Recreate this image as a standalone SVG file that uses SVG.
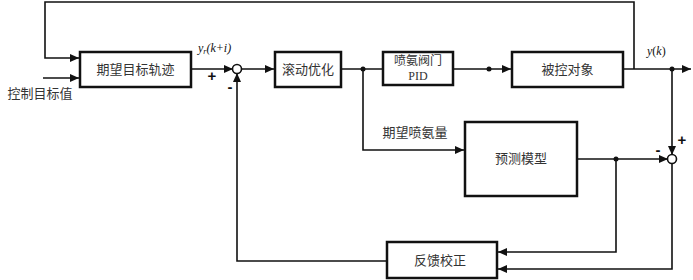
<svg xmlns="http://www.w3.org/2000/svg" width="693" height="280" viewBox="0 0 693 280">
<style>
.box{fill:#fff;stroke:#111;stroke-width:2.5}
.ln{fill:none;stroke:#111;stroke-width:1.6}
.t{font-family:"Noto Sans CJK SC","Noto Sans",sans-serif;font-size:13px;fill:#333;text-anchor:middle}
.s{font-family:"Liberation Serif","Noto Sans CJK SC",serif;font-size:12px;fill:#333;text-anchor:middle}
.m{font-family:"Liberation Sans",sans-serif;font-size:15px;font-weight:bold;fill:#111;text-anchor:middle}
.v{font-family:"Liberation Serif",serif;font-size:12px;font-style:italic;fill:#111}
.dot{fill:#111}
.sum{fill:#fff;stroke:#111;stroke-width:1.6}
</style>
<defs>
<marker id="ar" markerWidth="9" markerHeight="8" refX="9" refY="4" orient="auto" markerUnits="userSpaceOnUse">
<path d="M0,0 L9,4 L0,8 Z" fill="#111"/>
</marker>
</defs>
<g id="connectors">
<path class="ln" d="M634 69 V2 H45 V58 H79" marker-end="url(#ar)"/>
<path class="ln" d="M43 78 H79" marker-end="url(#ar)"/>
<path class="ln" d="M191 69 H233" marker-end="url(#ar)"/>
<path class="ln" d="M241 69 H274" marker-end="url(#ar)"/>
<path class="ln" d="M341 69 H383"/>
<path class="ln" d="M453 69 H511" marker-end="url(#ar)"/>
<path class="ln" d="M623 69 H691" marker-end="url(#ar)"/>
<path class="ln" d="M672 69 V155" marker-end="url(#ar)"/>
<path class="ln" d="M363 69 V150 H464" marker-end="url(#ar)"/>
<path class="ln" d="M577 159 H668" marker-end="url(#ar)"/>
<path class="ln" d="M616 159 V252 H498" marker-end="url(#ar)"/>
<path class="ln" d="M672 163 V269 H498" marker-end="url(#ar)"/>
<path class="ln" d="M387 261 H237 V73" marker-end="url(#ar)"/>
<circle class="dot" cx="363" cy="69" r="2.5"/>
<circle class="dot" cx="489" cy="69" r="2.5"/>
<circle class="dot" cx="672" cy="69" r="2.5"/>
<circle class="dot" cx="616" cy="159" r="2.5"/>
</g>
<g id="sum1"><circle class="sum" cx="237" cy="69" r="4.5"/></g>
<g id="sum2"><circle class="sum" cx="672" cy="159" r="4.5"/></g>
<g id="trajectory"><rect class="box" x="80" y="52" width="111" height="35"/><text class="t" x="135.5" y="74">期望目标轨迹</text></g>
<g id="rolling"><rect class="box" x="275" y="52" width="66" height="35"/><text class="t" x="308" y="74">滚动优化</text></g>
<g id="pid"><rect class="box" x="383" y="52" width="70" height="33"/><text class="s" x="418" y="65">喷氨阀门</text><text class="s" x="418" y="80">PID</text></g>
<g id="plant"><rect class="box" x="512" y="52" width="111" height="35"/><text class="t" x="567.5" y="74">被控对象</text></g>
<g id="model"><rect class="box" x="465" y="122" width="112" height="74"/><text class="t" x="521" y="163">预测模型</text></g>
<g id="correction"><rect class="box" x="387" y="242" width="110" height="36"/><text class="t" x="440" y="265">反馈校正</text></g>
<g id="labels">
<text class="t" x="40" y="98">控制目标值</text>
<text class="t" x="415" y="137">期望喷氨量</text>
<text class="v" x="198" y="52">y<tspan font-size="8" dy="2">r</tspan><tspan dy="-2">(k+i)</tspan></text>
<text class="v" x="647" y="55">y<tspan font-style="normal">(</tspan>k<tspan font-style="normal">)</tspan></text>
<text class="m" x="212" y="81">+</text>
<text class="m" x="230" y="92">-</text>
<text class="m" x="658" y="155">-</text>
<text class="m" x="682" y="145">+</text>
</g>
</svg>
